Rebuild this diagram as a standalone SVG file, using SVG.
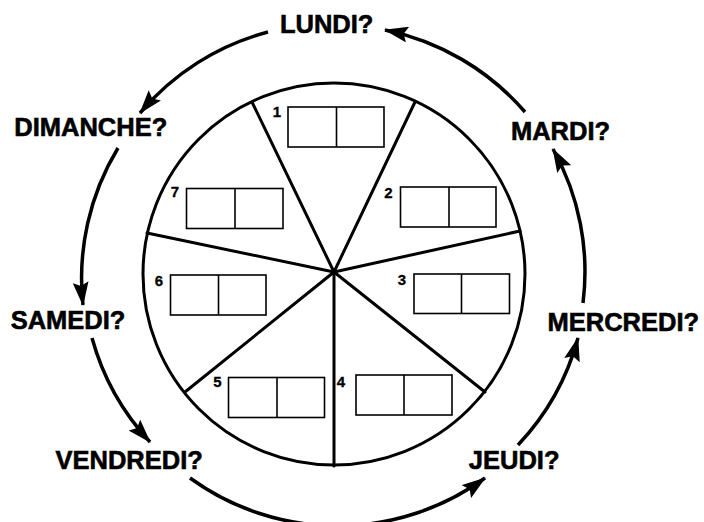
<svg xmlns="http://www.w3.org/2000/svg" width="704" height="522" viewBox="0 0 704 522">
<style>
.day{font-family:"Liberation Sans",Arial,sans-serif;font-weight:bold;font-size:25.5px;fill:#000;stroke:#000;stroke-width:0.6;text-anchor:middle}
.num{font-family:"Liberation Sans",Arial,sans-serif;font-weight:bold;font-size:15px;fill:#000;stroke:#000;stroke-width:0.3;text-anchor:middle}
.box{fill:#fff;stroke:#000;stroke-width:1.6}
.spoke{stroke:#000;stroke-width:3;stroke-linecap:round}
.ring{fill:none;stroke:#000;stroke-width:3}
.arc{fill:none;stroke:#000;stroke-width:3.5;marker-end:url(#ah)}
</style>
<defs>
<marker id="ah" markerUnits="userSpaceOnUse" viewBox="0 0 24 16" refX="23" refY="8" markerWidth="24" markerHeight="16" orient="auto">
<path d="M0,0 L24,8 L0,16 L4,8 Z" fill="#000"/>
</marker>
</defs>
<rect width="704" height="522" fill="#fff"/>
<g id="wheel">
<circle class="ring" cx="334" cy="274" r="191"/>
<line class="spoke" x1="334" y1="272" x2="252" y2="102"/>
<line class="spoke" x1="334" y1="272" x2="415" y2="102"/>
<line class="spoke" x1="334" y1="272" x2="520" y2="231"/>
<line class="spoke" x1="334" y1="272" x2="485" y2="392"/>
<line class="spoke" x1="334" y1="272" x2="334" y2="466"/>
<line class="spoke" x1="334" y1="272" x2="185" y2="392"/>
<line class="spoke" x1="334" y1="272" x2="147" y2="233"/>
</g>
<g id="sector1"><text class="num" x="277" y="117">1</text><rect class="box" x="288" y="107" width="96" height="40"/><line class="box" x1="336.5" y1="107" x2="336.5" y2="147"/></g>
<g id="sector2"><text class="num" x="388.5" y="198">2</text><rect class="box" x="400.5" y="187" width="95.5" height="40"/><line class="box" x1="449" y1="187" x2="449" y2="227"/></g>
<g id="sector3"><text class="num" x="402" y="285">3</text><rect class="box" x="414" y="274" width="95.5" height="39.5"/><line class="box" x1="461.5" y1="274" x2="461.5" y2="313.5"/></g>
<g id="sector4"><text class="num" x="341" y="386.5">4</text><rect class="box" x="356" y="375" width="96" height="40"/><line class="box" x1="404" y1="375" x2="404" y2="415"/></g>
<g id="sector5"><text class="num" x="217.5" y="387">5</text><rect class="box" x="228.5" y="377.5" width="96" height="40"/><line class="box" x1="277" y1="377.5" x2="277" y2="417.5"/></g>
<g id="sector6"><text class="num" x="159" y="286">6</text><rect class="box" x="170.5" y="275" width="95.5" height="40"/><line class="box" x1="218.5" y1="275" x2="218.5" y2="315"/></g>
<g id="sector7"><text class="num" x="175" y="197">7</text><rect class="box" x="186.5" y="188.5" width="96.5" height="40"/><line class="box" x1="235" y1="188.5" x2="235" y2="228.5"/></g>
<g id="lundi"><text class="day" x="326.7" y="33">LUNDI?</text></g>
<g id="mardi"><text class="day" x="560.5" y="140">MARDI?</text></g>
<g id="mercredi"><text class="day" x="623.3" y="331">MERCREDI?</text></g>
<g id="jeudi"><text class="day" x="514.2" y="469">JEUDI?</text></g>
<g id="vendredi"><text class="day" x="129.2" y="469">VENDREDI?</text></g>
<g id="samedi"><text class="day" x="68" y="329">SAMEDI?</text></g>
<g id="dimanche"><text class="day" x="90.8" y="136">DIMANCHE?</text></g>
<g id="connectors">
<path class="arc" d="M268,32 A251,251 0 0 0 140,113"/>
<path class="arc" d="M118,148 A251,251 0 0 0 83,305"/>
<path class="arc" d="M92,338 A251,251 0 0 0 150,442"/>
<path class="arc" d="M190,478 A251,251 0 0 0 485,478"/>
<path class="arc" d="M518,445 A251,251 0 0 0 578,338"/>
<path class="arc" d="M583,303 A251,251 0 0 0 553,149"/>
<path class="arc" d="M525,112 A251,251 0 0 0 385,30"/>
</g>
</svg>
